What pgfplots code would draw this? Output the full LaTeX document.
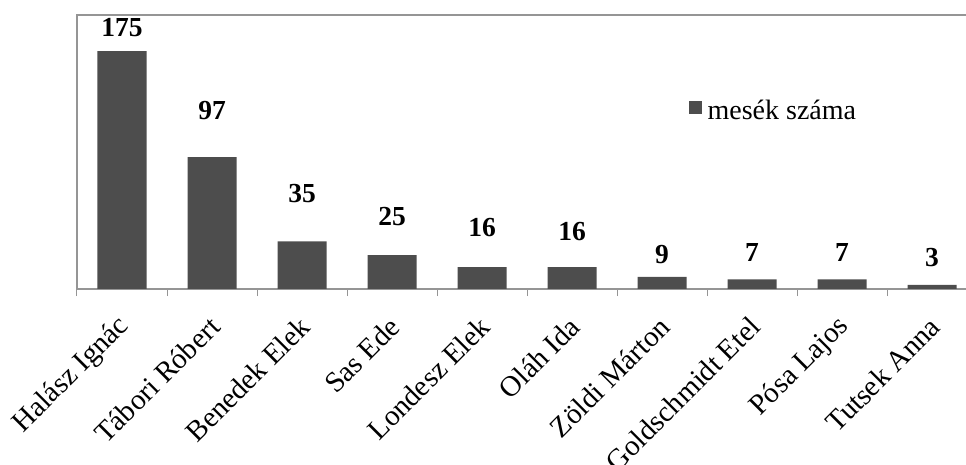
\documentclass[border=0pt]{standalone}
\usepackage{fontspec}
\setmainfont{Liberation Serif}
\usepackage{pgfplots}
\pgfplotsset{compat=1.18}
\definecolor{barc}{HTML}{4D4D4D}
\definecolor{linec}{HTML}{959595}

\pgfplotstableread{
x v ly
0 175 192.6
1 97 131.6
2 35 69.9
3 25 53
4 16 45
5 16 42.6
6 9 25.7
7 7 27
8 7 27
9 3 23.5
}\mesek

\begin{document}
\begin{tikzpicture}
\begin{axis}[
    name=ax,
    at={(0,0)}, anchor=south west,
    scale only axis,
    width=900pt, height=274pt,
    xmin=-0.5, xmax=9.5,
    ymin=0, ymax=201.5,
    axis line style={linec, line width=1.2pt},
    ytick=\empty,
    xtick={0,...,9},
    xtick pos=bottom,
    xticklabels={Halász Ignác, Tábori Róbert, Benedek Elek, Sas Ede, Londesz Elek,
        Oláh Ida, Zöldi Márton, Goldschmidt Etel, Pósa Lajos, Tutsek Anna},
    major tick length=0pt,
    minor xtick={-0.5,0.5,...,9.5},
    minor tick length=7pt,
    tick align=outside,
    every tick/.style={linec, line width=1pt},
    xticklabel style={xshift=3pt, yshift=-33pt, rotate=45, anchor=east,
        font=\fontsize{29}{32}\selectfont, inner sep=0pt},
    legend style={at={(0.676,0.653)}, anchor=west, draw=none, fill=none,
        font=\fontsize{28}{32}\selectfont},
    legend image code/.code={\fill[barc] (0pt,-4pt) rectangle (13pt,9pt);},
    legend cell align=left,
]
\addplot[ybar, bar width=49pt, fill=barc, draw=none] table[x=x, y=v] {\mesek};
\addlegendentry{\hspace{4pt}mesék száma}
\addplot[draw=none, mark=none, forget plot,
    nodes near coords, point meta=explicit symbolic,
    nodes near coords align=center,
    every node near coord/.style={font=\bfseries\fontsize{27.5}{30}\selectfont, black, anchor=center}]
    table[x=x, y=ly, meta=v] {\mesek};
\end{axis}
\pgfresetboundingbox
\path[use as bounding box] (-77pt,-176pt) rectangle (889pt,289pt);
\end{tikzpicture}
\end{document}
